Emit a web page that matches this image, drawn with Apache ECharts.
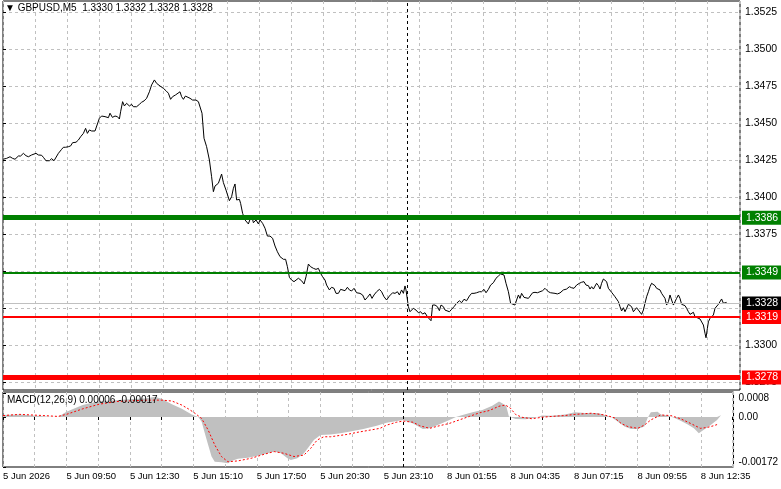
<!DOCTYPE html>
<html>
<head>
<meta charset="utf-8">
<script src="https://cdn.jsdelivr.net/npm/echarts@6/dist/echarts.min.js"></script>
<style>
  html, body { margin: 0; padding: 0; background: #ffffff; }
  #chart { width: 781px; height: 489px; }
</style>
</head>
<body>
<div id="chart"></div>
<script>
// x axis runs in M5 bar numbers, one label every 32 bars
const xLabels = ['5 Jun 2026', '5 Jun 09:50', '5 Jun 12:30', '5 Jun 15:10', '5 Jun 17:50', '5 Jun 20:30',
  '5 Jun 23:10', '8 Jun 01:55', '8 Jun 04:35', '8 Jun 07:15', '8 Jun 09:55', '8 Jun 12:35'];
const barsPerLabel = 32;
const daySeparatorBar = 202;

const priceTicks = [1.3275, 1.3300, 1.3325, 1.3350, 1.3375, 1.3400, 1.3425, 1.3450, 1.3475, 1.3500, 1.3525];
const macdTicks = [-0.00172, 0, 0.0008];
const macdTickLabels = ['-0.00172', '0.00', '0.0008'];

const resistanceStrong = 1.3386;
const resistance = 1.3349;
const lastPrice = 1.3328;
const support = 1.3319;
const supportStrong = 1.3278;

// [bar, close]
const closeSeries = [
  [0, 1.34255], [1.8, 1.34261], [3.5, 1.34272], [4.8, 1.34261], [6, 1.34255], [7.7, 1.34277], [8.8, 1.34277],
  [10.2, 1.34295], [11.5, 1.34279], [12.7, 1.34272], [14.3, 1.34284], [15.2, 1.34279], [16.5, 1.34295],
  [17.7, 1.34284], [19.3, 1.34282], [20.2, 1.34268], [21.5, 1.34245], [23.2, 1.34245], [24.3, 1.34259],
  [25.5, 1.34245], [26.5, 1.34255], [27.7, 1.34295], [29.3, 1.34322], [30.2, 1.34336], [31.3, 1.34336],
  [32.7, 1.3434], [33.8, 1.34345], [34.8, 1.34367], [36.5, 1.3437], [37.7, 1.34385], [38.8, 1.34407],
  [40.2, 1.3443], [41.3, 1.34464], [42.2, 1.3443], [43.2, 1.34453], [44.3, 1.34446], [46, 1.34446],
  [46.8, 1.34453], [48.2, 1.34532], [49.3, 1.34547], [51, 1.34543], [51.8, 1.3455], [52.7, 1.34536],
  [53.5, 1.34566], [54.7, 1.34538], [56, 1.34547], [57.2, 1.34543], [58.2, 1.34527], [58.8, 1.34576],
  [59.8, 1.34644], [60.7, 1.34615], [61.8, 1.34633], [63.2, 1.34615], [64.3, 1.34626], [65.2, 1.3461],
  [66.8, 1.3461], [68.2, 1.34626], [69.3, 1.3464], [70.5, 1.34649], [71.8, 1.34667], [73.2, 1.34711],
  [74.3, 1.34757], [75.7, 1.34791], [76.8, 1.34768], [78.5, 1.3475], [80.2, 1.34734], [81.5, 1.34718],
  [82.7, 1.34701], [83.8, 1.3466], [84.8, 1.34678], [86.2, 1.34689], [87.2, 1.34701], [88.5, 1.34711],
  [89.3, 1.34678], [90.2, 1.3466], [91.2, 1.34682], [92.2, 1.34689], [93.5, 1.34667], [94.8, 1.34655],
  [96.5, 1.34655], [97.7, 1.34644], [98.5, 1.34633], [99.5, 1.34566], [100.5, 1.34397], [101.8, 1.3434],
  [103.2, 1.3425], [104.3, 1.34137], [105.2, 1.34036], [106, 1.34074], [107.7, 1.34093], [109.3, 1.34155],
  [110.2, 1.34097], [111.5, 1.34047], [113.2, 1.33975], [114.3, 1.34002], [115.2, 1.34059], [116, 1.34088],
  [116.8, 1.3398], [118.2, 1.33984], [118.8, 1.33957], [119.8, 1.3389], [121, 1.33845], [122.7, 1.33818],
  [123.5, 1.33849], [124.3, 1.33878], [125.2, 1.33826], [126.5, 1.33845], [127.7, 1.33818], [128.5, 1.33845],
  [129.8, 1.33822], [131, 1.33789], [132.2, 1.33736], [133.5, 1.33736], [134.8, 1.33721], [136, 1.33669],
  [137.2, 1.3363], [138.5, 1.33597], [140.2, 1.33579], [141.3, 1.33579], [142.2, 1.33529], [143.2, 1.33457],
  [144.3, 1.33439], [145.5, 1.33428], [146.5, 1.33417], [147.7, 1.33451], [148.5, 1.33457], [149.3, 1.33434],
  [150.5, 1.33412], [151.5, 1.33461], [152.7, 1.33547], [153.8, 1.33529], [155.2, 1.33518], [156.5, 1.33511],
  [157.7, 1.33518], [158.8, 1.33484], [159.8, 1.33461], [161, 1.33439], [161.8, 1.33405], [163.2, 1.33372],
  [164.3, 1.3339], [165.5, 1.33383], [166.5, 1.33349], [167.7, 1.33349], [168.8, 1.33376], [169.8, 1.33383],
  [171, 1.33367], [172.2, 1.3339], [173.2, 1.33372], [174.3, 1.33365], [175.5, 1.33383], [176.8, 1.33353],
  [178.5, 1.33349], [179.8, 1.33338], [181, 1.33304], [182.2, 1.33322], [183.5, 1.33345], [184.5, 1.33315],
  [185.5, 1.33338], [186.8, 1.3336], [188.2, 1.33376], [189.3, 1.3336], [190.5, 1.33326], [191.8, 1.33304],
  [193.2, 1.33331], [194.8, 1.33353], [196, 1.33349], [197.2, 1.3336], [198.2, 1.33338], [199.3, 1.33372],
  [200.2, 1.33349], [201, 1.33399], [201.5, 1.33372], [202.2, 1.3336], [202.7, 1.33259], [203.5, 1.33225],
  [204.3, 1.33236], [205.2, 1.33248], [206.5, 1.33236], [207.7, 1.33218], [208.8, 1.33225], [209.8, 1.33209],
  [211, 1.33218], [212.2, 1.33191], [213.2, 1.33187], [214, 1.33164], [214.8, 1.3327], [216, 1.3327],
  [217.2, 1.33259], [218.2, 1.33232], [219, 1.3327], [220.2, 1.33259], [221, 1.33236], [221.8, 1.33248],
  [223.2, 1.33225], [224.3, 1.33241], [225.5, 1.33259], [226.8, 1.33282], [228.2, 1.33299], [229.3, 1.33286],
  [230.5, 1.33309], [231.8, 1.33299], [233.2, 1.33331], [234.3, 1.33349], [235.5, 1.33349], [236.8, 1.33353],
  [238.2, 1.3336], [239.3, 1.3336], [240.5, 1.33376], [241.5, 1.33353], [242.7, 1.33376], [243.8, 1.33405],
  [245.2, 1.33421], [246.5, 1.33451], [247.7, 1.33466], [248.8, 1.3348], [249.8, 1.33489], [250.5, 1.33473],
  [251.5, 1.33417], [252.7, 1.3336], [253.8, 1.33282], [254.8, 1.3327], [256, 1.3327], [256.8, 1.33304],
  [257.7, 1.33338], [258.5, 1.33315], [259.3, 1.33349], [260.5, 1.33322], [261.5, 1.33309], [262.7, 1.33315],
  [263.5, 1.33309], [264.8, 1.33353], [266, 1.33356], [267.2, 1.33353], [268.5, 1.3336], [269.8, 1.33367],
  [271, 1.33383], [271.8, 1.33372], [272.7, 1.3336], [273.8, 1.33353], [274.8, 1.3336], [276, 1.33349],
  [277.2, 1.33345], [278.5, 1.33352], [280.2, 1.33372], [281.8, 1.33378], [283.2, 1.33394], [284.3, 1.33387],
  [285.5, 1.33383], [286.8, 1.33405], [288.2, 1.33417], [289.3, 1.33424], [290.5, 1.33428], [291.5, 1.33405],
  [292.7, 1.33401], [293.5, 1.33378], [294.3, 1.33394], [295.2, 1.33378], [296, 1.33387], [296.8, 1.33417],
  [297.7, 1.33401], [298.5, 1.33378], [299.3, 1.33417], [300.2, 1.33446], [301, 1.33451], [301.8, 1.33428],
  [302.7, 1.33383], [303.5, 1.33372], [304.3, 1.33356], [305.2, 1.33343], [306, 1.33326], [306.8, 1.33315],
  [307.7, 1.33293], [308.5, 1.33259], [309.3, 1.3323], [310.2, 1.33252], [311, 1.33225], [311.8, 1.33248],
  [312.7, 1.33275], [313.5, 1.33288], [314.3, 1.33259], [315.2, 1.33225], [316, 1.33236], [316.8, 1.33252],
  [317.7, 1.33236], [318.5, 1.3323], [319.3, 1.33207], [320.2, 1.33236], [321, 1.33282], [321.8, 1.33326],
  [322.7, 1.3336], [323.5, 1.33394], [324.3, 1.33417], [325.2, 1.33405], [326, 1.33401], [326.8, 1.33383],
  [327.7, 1.33387], [328.5, 1.33372], [329.3, 1.33349], [330.2, 1.33338], [331, 1.33315], [331.8, 1.3327],
  [332.7, 1.33293], [333.5, 1.33338], [334.3, 1.33304], [335.2, 1.3327], [336, 1.33293], [336.8, 1.33315],
  [337.7, 1.33338], [338.5, 1.33315], [339.3, 1.33275], [340.2, 1.33275], [341, 1.33266], [341.8, 1.33248],
  [342.7, 1.33225], [343.5, 1.33207], [344.3, 1.33207], [345.2, 1.33221], [346, 1.33191], [346.8, 1.3318],
  [348.5, 1.33176], [349.3, 1.3318], [350.2, 1.33135], [351, 1.33079], [351.5, 1.33049], [352.2, 1.33113],
  [352.7, 1.33157], [353.5, 1.3318], [354.3, 1.33184], [355.2, 1.33203], [356, 1.33248], [356.8, 1.33259],
  [357.7, 1.33275], [358.5, 1.33288], [359.3, 1.33311], [360.2, 1.33282], [361, 1.33293], [361.8, 1.33288]
];

// [bar, value]
const macdHistogram = [
  [0, 0.00007], [8.5, 0.00009], [15, 0.00005], [23.5, 0.00001], [27.7, 0], [32, 0.00018], [40.2, 0.00041],
  [48.5, 0.00055], [56.8, 0.00058], [65.2, 0.00062], [71.8, 0.00064], [76.8, 0.0007], [80.2, 0.00062],
  [85.2, 0.00044], [90.2, 0.00028], [95.2, 0.00009], [98.5, 0], [100.2, -0.00016], [101.8, -0.00056],
  [103.5, -0.00096], [105.2, -0.00136], [106.8, -0.00154], [110.2, -0.00156], [113.5, -0.00159],
  [115.2, -0.00151], [118.5, -0.00144], [123.5, -0.0014], [128.5, -0.00133], [133.5, -0.00125],
  [136.8, -0.00119], [140.2, -0.00125], [143.5, -0.00142], [145.2, -0.00148], [148.5, -0.00142],
  [151.8, -0.00125], [154.3, -0.00102], [156.8, -0.00079], [160.2, -0.00062], [165.2, -0.0006],
  [170.2, -0.00056], [175.2, -0.0005], [181.8, -0.00041], [188.5, -0.0003], [193.5, -0.0002],
  [201.8, -0.0001], [206.8, -0.00022], [211.8, -0.00041], [215.2, -0.00039], [220.2, -0.00025],
  [225.2, -0.0001], [228.5, 0], [231.8, 0.00007], [236.8, 0.00016], [241.8, 0.00024], [246.8, 0.00039],
  [250.2, 0.00053], [251.8, 0.00047], [253.8, 0.00039], [255.2, 0.00002], [258.5, -0.00007], [263.5, -0.00008],
  [268.5, -0.00003], [271.8, 0.00005], [276.8, 0.00004], [283.5, 0.00009], [288.5, 0.00016], [293.5, 0.00014],
  [300.2, 0.00014], [303.5, 0.00007], [306.8, 0], [310.2, -0.00016], [313.5, -0.00033], [316.8, -0.00041],
  [320.2, -0.00041], [323.5, -0.00033], [325.2, -0.00003], [326.8, 0.00016], [330.2, 0.00018], [331.8, 0.00009],
  [335.2, 0.00005], [338.5, -0.00003], [341.8, -0.00013], [345.2, -0.00025], [348.5, -0.00039], [351, -0.00056],
  [353.5, -0.00044], [356.8, -0.00028], [360.2, -0.0001], [362.2, 0.00006]
];

const macdSignal = [
  [0, 0.00005], [8.5, 0.00009], [20.2, 0.00005], [27.7, 0.00002], [32, 0.00009], [40.2, 0.00028],
  [48.5, 0.00044], [56.8, 0.00053], [65.2, 0.00056], [73.5, 0.00058], [80.2, 0.00058], [85.2, 0.00055],
  [90.2, 0.00041], [93.5, 0.00028], [96.8, 0.00013], [100.2, -0.00005], [103.5, -0.00045], [106.8, -0.00096],
  [110.2, -0.00136], [113.5, -0.00154], [118.5, -0.00151], [125.2, -0.00142], [131.8, -0.00128],
  [136.8, -0.00119], [141.8, -0.00125], [146.8, -0.00136], [151.8, -0.00131], [155.2, -0.00108],
  [158.5, -0.00079], [161.8, -0.00068], [165.2, -0.00068], [173.5, -0.0006], [178.5, -0.00053],
  [185.2, -0.00045], [190.2, -0.00039], [193.5, -0.00028], [198.5, -0.00018], [201.8, -0.00014],
  [206.8, -0.00018], [210.2, -0.0003], [215.2, -0.00039], [220.2, -0.0003], [225.2, -0.00022],
  [230.2, -0.0001], [235.2, 0.00002], [240.2, 0.00014], [245.2, 0.00022], [250.2, 0.00037], [253.5, 0.00041],
  [256, 0.0003], [258.5, 0.00009], [261.8, -0.00001], [266.8, -0.00006], [271.8, -0.00001], [276.8, 0.00002],
  [283.5, 0.00005], [288.5, 0.00009], [296.8, 0.00013], [303.5, 0.00007], [308.5, -0.00003], [311.8, -0.00022],
  [315.2, -0.00033], [320.2, -0.00039], [323.5, -0.00028], [326.8, -0.0001], [331.8, 0.00007], [336.8, 0.00005],
  [341.8, -0.00006], [346.8, -0.00022], [351.8, -0.00039], [355.2, -0.00036], [358.5, -0.0003], [360.2, -0.00026]
];

const FONT = 'Liberation Sans';
const GRID_DASH = { color: '#c0c0c0', type: [3, 3], width: 1 };

const chart = echarts.init(document.getElementById('chart'), null, { renderer: 'canvas' });

function levelLine(value, color, width, boxColor) {
  return {
    yAxis: value,
    lineStyle: { color, width, type: 'solid' },
    label: {
      show: true,
      position: 'end',
      distance: 2,
      formatter: (p) => p.value.toFixed(4),
      color: '#ffffff',
      backgroundColor: boxColor,
      padding: [2, 12, 1, 4],
      fontFamily: FONT,
      fontSize: 10.5
    }
  };
}

function separatorLine() {
  return {
    xAxis: daySeparatorBar,
    lineStyle: { color: '#000000', width: 1, type: [3, 3] },
    label: { show: false }
  };
}

function bottomLabel(value) {
  if (value % barsPerLabel !== 0) return '';
  return xLabels[value / barsPerLabel] || '';
}

function macdLabel(value) {
  const i = macdTicks.findIndex((t) => Math.abs(t - value) < 1e-9);
  return i >= 0 ? macdTickLabels[i] : '';
}

chart.setOption({
  animation: false,
  backgroundColor: '#ffffff',
  title: [
    {
      text: '▼ GBPUSD,M5  1.3330 1.3332 1.3328 1.3328',
      left: 5,
      top: 3,
      padding: 0,
      textStyle: { fontFamily: FONT, fontSize: 10, fontWeight: 'normal', color: '#000000' }
    },
    {
      text: 'MACD(12,26,9) 0.00006 -0.00017',
      left: 7,
      top: 395,
      padding: 0,
      textStyle: { fontFamily: FONT, fontSize: 10, fontWeight: 'normal', color: '#000000' }
    }
  ],
  grid: [
    { left: 3, right: 41, top: 1, height: 389, show: true, borderColor: '#000000', borderWidth: 1, backgroundColor: 'transparent' },
    { left: 3, right: 41, top: 392, height: 75, show: true, borderColor: '#000000', borderWidth: 1, backgroundColor: 'transparent' }
  ],
  xAxis: [
    {
      type: 'value',
      gridIndex: 0,
      min: 0,
      max: 368.5,
      interval: 16,
      axisLine: { show: false },
      axisTick: { show: false },
      axisLabel: { show: false },
      splitLine: { show: true, lineStyle: GRID_DASH }
    },
    {
      type: 'value',
      gridIndex: 1,
      min: 0,
      max: 368.5,
      interval: 16,
      axisLine: { show: false },
      axisTick: { show: true, length: 3, lineStyle: { color: '#000000' } },
      axisLabel: {
        formatter: bottomLabel,
        align: 'left',
        margin: 4,
        color: '#000000',
        fontFamily: FONT,
        fontSize: 9.5,
        showMinLabel: true,
        showMaxLabel: false
      },
      splitLine: { show: true, lineStyle: GRID_DASH }
    }
  ],
  yAxis: [
    {
      type: 'value',
      gridIndex: 0,
      position: 'right',
      min: 1.326960,
      max: 1.353243,
      axisLine: { show: false },
      axisTick: { show: true, length: 3, lineStyle: { color: '#000000' }, customValues: priceTicks },
      axisLabel: {
        customValues: priceTicks,
        formatter: (v) => v.toFixed(4),
        margin: 5,
        color: '#000000',
        fontFamily: FONT,
        fontSize: 10.5
      },
      splitLine: { show: true, lineStyle: GRID_DASH }
    },
    {
      type: 'value',
      gridIndex: 1,
      position: 'right',
      min: -0.00172,
      max: 0.00086,
      axisLine: { show: false },
      axisTick: { show: true, length: 3, lineStyle: { color: '#000000' }, customValues: macdTicks },
      axisLabel: {
        customValues: macdTicks,
        formatter: macdLabel,
        margin: 5,
        color: '#000000',
        fontFamily: FONT,
        fontSize: 10,
        verticalAlignMinLabel: 'bottom',
        verticalAlignMaxLabel: 'top'
      },
      splitLine: { show: false }
    }
  ],
  series: [
    {
      type: 'line',
      name: 'GBPUSD',
      xAxisIndex: 0,
      yAxisIndex: 0,
      data: closeSeries,
      symbol: 'none',
      lineStyle: { color: '#000000', width: 1 },
      markLine: {
        silent: true,
        precision: 5,
        symbol: ['none', 'none'],
        data: [
          separatorLine(),
          levelLine(lastPrice, '#c0c0c0', 1, '#000000'),
          levelLine(resistanceStrong, '#008000', 5, '#008000'),
          levelLine(resistance, '#008000', 2, '#008000'),
          levelLine(support, '#ff0000', 2, '#ff0000'),
          levelLine(supportStrong, '#ff0000', 5, '#ff0000')
        ]
      }
    },
    {
      type: 'line',
      name: 'MACD',
      xAxisIndex: 1,
      yAxisIndex: 1,
      data: macdHistogram,
      symbol: 'none',
      lineStyle: { width: 0, color: '#c0c0c0' },
      areaStyle: { color: '#c0c0c0', opacity: 1 },
      markLine: {
        silent: true,
        symbol: ['none', 'none'],
        data: [separatorLine()]
      }
    },
    {
      type: 'line',
      name: 'Signal',
      xAxisIndex: 1,
      yAxisIndex: 1,
      data: macdSignal,
      symbol: 'none',
      lineStyle: { color: '#ff0000', width: 1, type: [2, 2] }
    }
  ]
});
</script>
</body>
</html>
